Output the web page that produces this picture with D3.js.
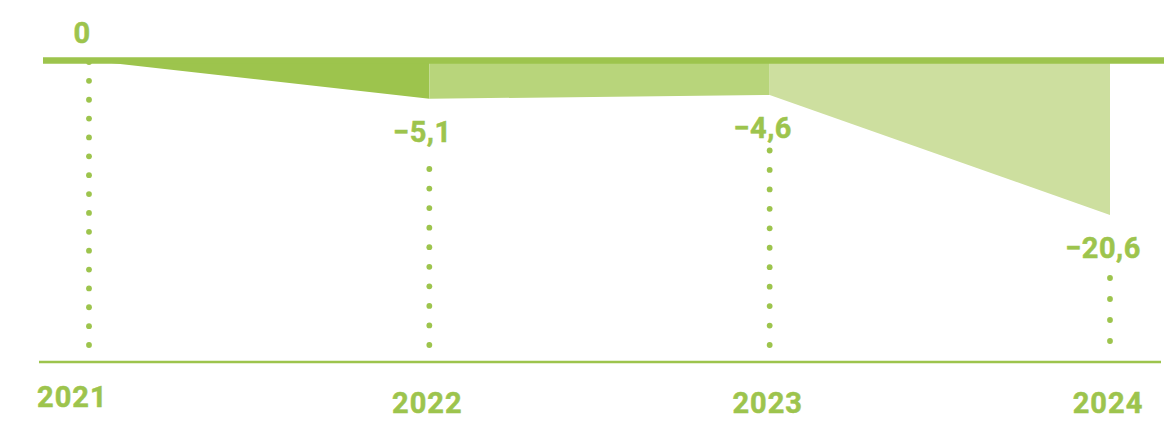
<!DOCTYPE html>
<html>
<head>
<meta charset="utf-8">
<script src="https://cdn.jsdelivr.net/npm/d3@7"></script>
<style>
  body { margin: 0; background: #fff; }
  text { font-family: Roboto, "Open Sans", sans-serif; font-weight: 700; fill: #9dc44d; stroke: #9dc44d; stroke-width: 0.5px; }
</style>
</head>
<body>
<div id="chart"></div>
<script>
var years = [2021, 2022, 2023, 2024];
var values = [0, -5.1, -4.6, -20.6];
var valueLabels = ["0", "\u22125,1", "\u22124,6", "\u221220,6"];

var width = 1164, height = 422;
var green = "#9dc44d";
var areaColors = ["#9dc44d", "#b8d57b", "#cddf9f"];

// dot columns under each label (top / bottom of the dotted guide)
var dotTop = [62, 169, 150.5, 278];
var dotBottom = [345, 345, 345, 341];

var svg = d3.select("#chart")
    .append("svg")
    .attr("width", width)
    .attr("height", height);

var x = d3.scaleLinear().domain([2021, 2024]).range([89, 1110]);
var y = d3.scaleLinear().domain([0, -20.6]).range([60.5, 215]);

//one shape per year step, from zero down to the two values
var steps = d3.range(1, years.length).map(function(i) {
  return [
    [years[i - 1], 0],
    [years[i - 1], values[i - 1]],
    [years[i], values[i]],
    [years[i], 0]
  ];
});

var area = d3.line()
    .x(function(d) { return x(d[0]); })
    .y(function(d) { return y(d[1]); });

svg.selectAll("path.step")
  .data(steps)
  .enter()
  .append("path")
  .attr("class", "step")
  .attr("d", function(d) { return area(d) + "Z"; })
  .attr("fill", function(d, i) { return areaColors[i]; });

//dotted guides
years.forEach(function(yr, i) {
  var n = Math.round((dotBottom[i] - dotTop[i]) / 19.5) + 1;
  var step = (dotBottom[i] - dotTop[i]) / (n - 1);
  svg.selectAll("circle.d" + i)
    .data(d3.range(n))
    .enter()
    .append("circle")
    .attr("class", "d" + i)
    .attr("cx", x(yr))
    .attr("cy", function(k) { return dotBottom[i] - k * step; })
    .attr("r", 2.9)
    .attr("fill", green);
});

//zero line
svg.append("line")
  .attr("x1", 43).attr("x2", width)
  .attr("y1", y(0)).attr("y2", y(0))
  .attr("stroke", green)
  .attr("stroke-width", 6.5);

//bottom axis line
svg.append("line")
  .attr("x1", 39).attr("x2", 1161)
  .attr("y1", 362).attr("y2", 362)
  .attr("stroke", green)
  .attr("stroke-width", 2.4);

//value labels
svg.selectAll("text.val")
  .data(values)
  .enter()
  .append("text")
  .attr("class", "val")
  .attr("x", function(d, i) { return x(years[i]) - 7; })
  .attr("y", function(d, i) { return d === 0 ? y(d) - 18 : y(d) + 43; })
  .attr("text-anchor", "middle")
  .style("font-size", "29px")
  .style("letter-spacing", "0.5px")
  .text(function(d, i) { return valueLabels[i]; });

//year labels
svg.selectAll("text.year")
  .data(years)
  .enter()
  .append("text")
  .attr("class", "year")
  .attr("x", function(d, i) { return i === 0 ? 37 : x(d) - 2; })
  .attr("y", function(d, i) { return i === 0 ? 407 : 413; })
  .attr("text-anchor", function(d, i) { return i === 0 ? "start" : "middle"; })
  .style("font-size", "29px")
  .style("letter-spacing", "1px")
  .text(function(d) { return d; });
</script>
</body>
</html>
